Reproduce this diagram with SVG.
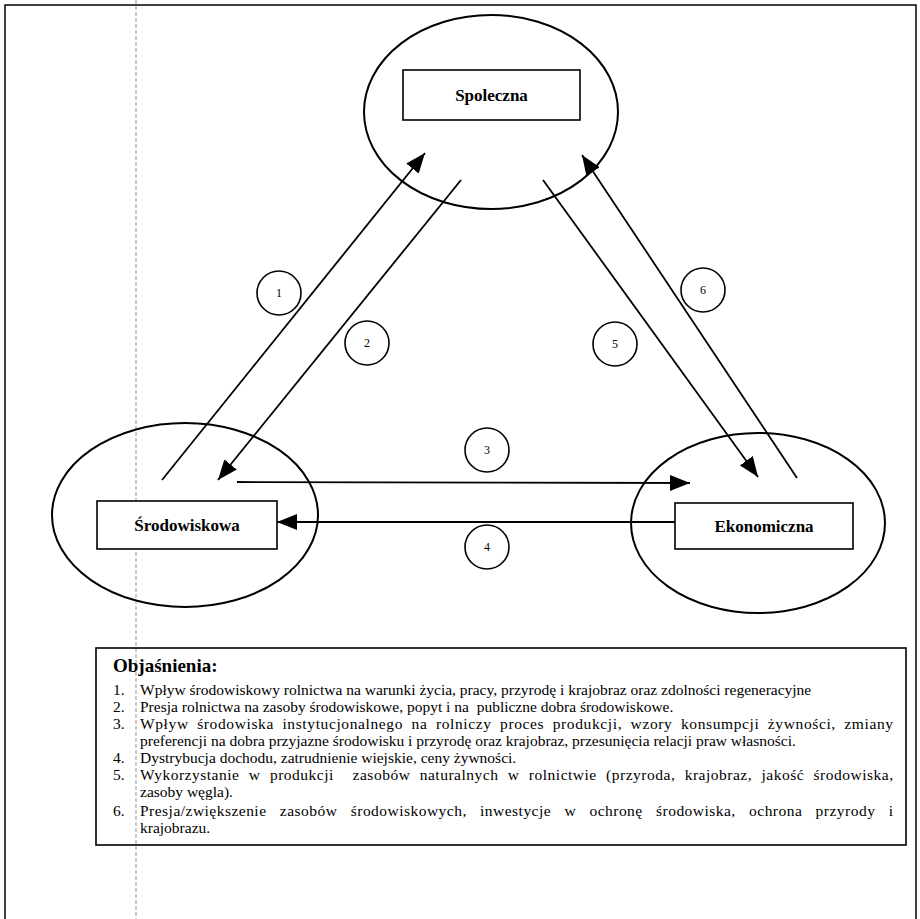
<svg xmlns="http://www.w3.org/2000/svg" width="920" height="919" viewBox="0 0 920 919">
<style>
.el{fill:none;stroke:#000;stroke-width:2}
.bx{fill:#fff;stroke:#000;stroke-width:1.6}
.nd{font-family:"Liberation Serif","Times New Roman",serif;font-weight:bold;font-size:17px;text-anchor:middle;fill:#000}
.ci{fill:#fff;stroke:#000;stroke-width:1.6}
.cn{font-family:"Liberation Serif","Times New Roman",serif;font-size:12px;text-anchor:middle;fill:#000}
.ln{stroke:#000;stroke-width:1.8;fill:none}
.lg{font-family:"Liberation Serif","Times New Roman",serif;font-size:15.5px;fill:#000}
.tt{font-family:"Liberation Serif","Times New Roman",serif;font-weight:bold;font-size:19px;fill:#000}
</style>
<defs>
<marker id="ah" viewBox="0 0 20 16" refX="20" refY="8" markerWidth="20" markerHeight="16" markerUnits="userSpaceOnUse" orient="auto">
<path d="M0,0 L20,8 L0,16 Z" fill="#000"/>
</marker>
</defs>
<rect x="0" y="0" width="920" height="919" fill="#fff"/>
<rect x="5" y="5" width="911" height="930" fill="none" stroke="#000" stroke-width="1.5"/>
<line x1="136" y1="0" x2="136" y2="919" stroke="#999" stroke-width="1" stroke-dasharray="4,2"/>

<g id="node-spoleczna">
<ellipse class="el" cx="491" cy="112" rx="127" ry="97"/>
<rect class="bx" x="403" y="70" width="177" height="50"/>
<text class="nd" x="491.5" y="101">Spoleczna</text>
</g>
<g id="node-srodowiskowa">
<ellipse class="el" cx="185" cy="515" rx="133" ry="92"/>
<rect class="bx" x="97" y="501" width="180" height="48"/>
<text class="nd" x="187" y="531">Środowiskowa</text>
</g>
<g id="node-ekonomiczna">
<ellipse class="el" cx="758" cy="523" rx="127" ry="90"/>
<rect class="bx" x="675" y="503" width="178" height="46"/>
<text class="nd" x="764" y="532">Ekonomiczna</text>
</g>

<g id="connectors">
<line class="ln" x1="162" y1="480" x2="425" y2="153" marker-end="url(#ah)"/>
<line class="ln" x1="461" y1="180" x2="218" y2="480" marker-end="url(#ah)"/>
<line class="ln" x1="543" y1="180" x2="758" y2="477" marker-end="url(#ah)"/>
<line class="ln" x1="797" y1="478" x2="582" y2="155" marker-end="url(#ah)"/>
<line class="ln" x1="237" y1="482" x2="690" y2="483" marker-end="url(#ah)"/>
<line class="ln" x1="675" y1="522" x2="277" y2="522" marker-end="url(#ah)"/>
</g>

<g id="label-1"><circle class="ci" cx="279" cy="293" r="22"/><text class="cn" x="279" y="297">1</text></g>
<g id="label-2"><circle class="ci" cx="367" cy="343" r="22"/><text class="cn" x="367" y="347">2</text></g>
<g id="label-3"><circle class="ci" cx="487" cy="450" r="22"/><text class="cn" x="487" y="454">3</text></g>
<g id="label-4"><circle class="ci" cx="487" cy="547" r="22"/><text class="cn" x="487" y="551">4</text></g>
<g id="label-5"><circle class="ci" cx="615" cy="344" r="22"/><text class="cn" x="615" y="348">5</text></g>
<g id="label-6"><circle class="ci" cx="703" cy="290" r="22"/><text class="cn" x="703" y="294">6</text></g>

<g id="legend">
<rect x="96" y="648" width="810" height="197" fill="none" stroke="#000" stroke-width="1.6"/>
<text class="tt" x="113" y="672">Objaśnienia:</text>
<text class="lg" x="113" y="695">1.</text>
<text class="lg" x="140" y="695">Wpływ środowiskowy rolnictwa na warunki życia, pracy, przyrodę i krajobraz oraz zdolności regeneracyjne</text>
<text class="lg" x="113" y="712">2.</text>
<text class="lg" x="140" y="712" xml:space="preserve">Presja rolnictwa na zasoby środowiskowe, popyt i na  publiczne dobra środowiskowe.</text>
<text class="lg" x="113" y="729">3.</text>
<text class="lg" x="140" y="729" word-spacing="4" textLength="753" lengthAdjust="spacing">Wpływ środowiska instytucjonalnego na rolniczy proces produkcji, wzory konsumpcji żywności, zmiany</text>
<text class="lg" x="140" y="746">preferencji na dobra przyjazne środowisku i przyrodę oraz krajobraz, przesunięcia relacji praw własności.</text>
<text class="lg" x="113" y="763">4.</text>
<text class="lg" x="140" y="763">Dystrybucja dochodu, zatrudnienie wiejskie, ceny żywności.</text>
<text class="lg" x="113" y="780">5.</text>
<text class="lg" x="140" y="780" xml:space="preserve" word-spacing="5" textLength="753" lengthAdjust="spacing">Wykorzystanie w produkcji  zasobów naturalnych w rolnictwie (przyroda, krajobraz, jakość środowiska,</text>
<text class="lg" x="140" y="797">zasoby węgla).</text>
<text class="lg" x="113" y="816" font-size="17px">6.</text>
<text class="lg" x="140" y="816" word-spacing="9" textLength="753" lengthAdjust="spacing">Presja/zwiększenie zasobów środowiskowych, inwestycje w ochronę środowiska, ochrona przyrody i</text>
<text class="lg" x="140" y="833">krajobrazu.</text>
</g>
</svg>
